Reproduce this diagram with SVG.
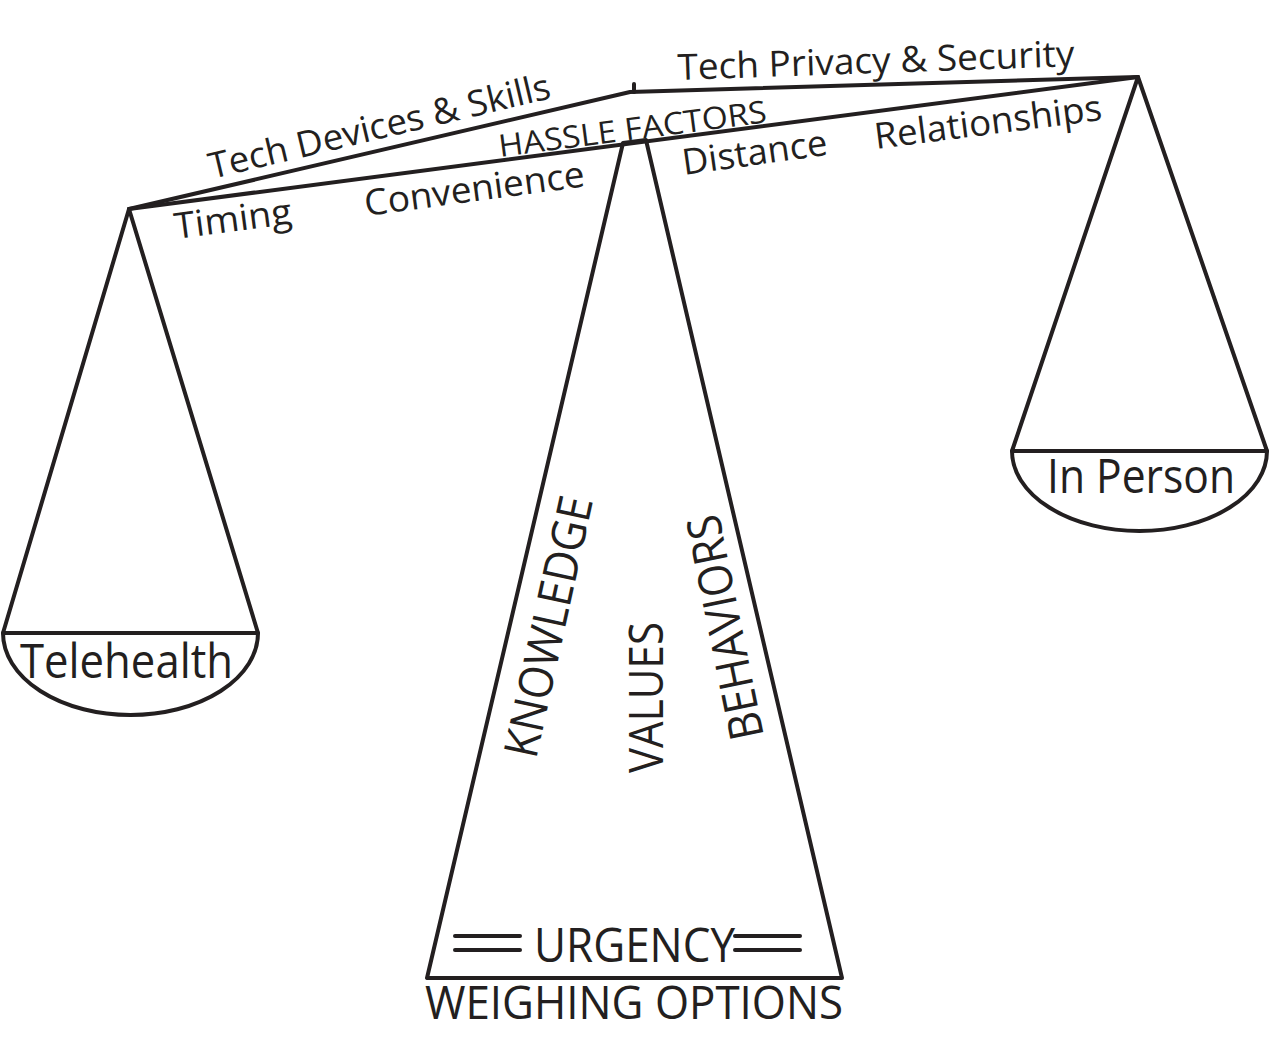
<svg xmlns="http://www.w3.org/2000/svg" width="1270" height="1037" viewBox="0 0 1270 1037">
<style>
  .ln { fill: none; stroke: #231f20; stroke-width: 4; stroke-linejoin: round; stroke-linecap: round; }
  .pan { fill: none; stroke: #231f20; stroke-width: 4; }
  .t { font-family: "Open Sans", "Liberation Sans", sans-serif; fill: #231f20; }
  .s { font-size: 36px; }
  .m { font-size: 47px; }
</style>
<rect width="1270" height="1037" fill="#ffffff"/>

<g id="beam">
  <polyline class="ln" points="129,209 630,92 1138,77"/>
  <line class="ln" x1="129" y1="209" x2="1138" y2="77"/>
  <line class="ln" x1="634" y1="84" x2="634" y2="92" stroke-width="3"/>
  <text class="t s" transform="translate(212,179) rotate(-13.4)" textLength="350" lengthAdjust="spacingAndGlyphs">Tech Devices &amp; Skills</text>
  <text class="t s" transform="translate(678,80) rotate(-2)" textLength="397" lengthAdjust="spacingAndGlyphs">Tech Privacy &amp; Security</text>
  <text class="t" font-size="31" transform="translate(500,157) rotate(-7.4)" textLength="270" lengthAdjust="spacingAndGlyphs">HASSLE FACTORS</text>
  <text class="t s" transform="translate(176,239) rotate(-7.5)" textLength="118" lengthAdjust="spacingAndGlyphs">Timing</text>
  <text class="t s" transform="translate(366,216) rotate(-7.7)" textLength="222" lengthAdjust="spacingAndGlyphs">Convenience</text>
  <text class="t s" transform="translate(684,175) rotate(-8)" textLength="146" lengthAdjust="spacingAndGlyphs">Distance</text>
  <text class="t s" transform="translate(876,149) rotate(-7.3)" textLength="229" lengthAdjust="spacingAndGlyphs">Relationships</text>
</g>

<g id="connectors">
  <polyline class="ln" points="3,633 129,209 258,633"/>
  <polyline class="ln" points="1012,451 1138,77 1267,451"/>
</g>

<g id="telehealth">
  <line class="pan" x1="3" y1="633" x2="258" y2="633"/>
  <path class="ln" d="M3,633 A127.5,82 0 0 0 258,633"/>
  <text class="t m" x="20" y="678" textLength="213" lengthAdjust="spacingAndGlyphs">Telehealth</text>
</g>

<g id="in-person">
  <line class="pan" x1="1012" y1="451" x2="1267" y2="451"/>
  <path class="ln" d="M1012,451 A127.5,80 0 0 0 1267,451"/>
  <text class="t m" x="1047" y="493" textLength="188" lengthAdjust="spacingAndGlyphs">In Person</text>
</g>

<g id="weighing-options">
  <polygon class="ln" points="623,143 427,978 842,978 646,140"/>
  <text class="t m" transform="translate(536,760) rotate(-77.6)" textLength="266" lengthAdjust="spacingAndGlyphs">KNOWLEDGE</text>
  <text class="t m" transform="translate(663,773) rotate(-90)" textLength="151" lengthAdjust="spacingAndGlyphs">VALUES</text>
  <text class="t m" transform="translate(764,736) rotate(-101.5)" textLength="228" lengthAdjust="spacingAndGlyphs">BEHAVIORS</text>
  <line class="ln" x1="455" y1="936" x2="520" y2="936"/>
  <line class="ln" x1="455" y1="950" x2="520" y2="950"/>
  <line class="ln" x1="735" y1="936" x2="800" y2="936"/>
  <line class="ln" x1="735" y1="950" x2="800" y2="950"/>
  <text class="t m" x="534" y="962" textLength="201" lengthAdjust="spacingAndGlyphs">URGENCY</text>
  <text class="t" font-size="45" x="425" y="1019" textLength="418" lengthAdjust="spacingAndGlyphs">WEIGHING OPTIONS</text>
</g>
</svg>
